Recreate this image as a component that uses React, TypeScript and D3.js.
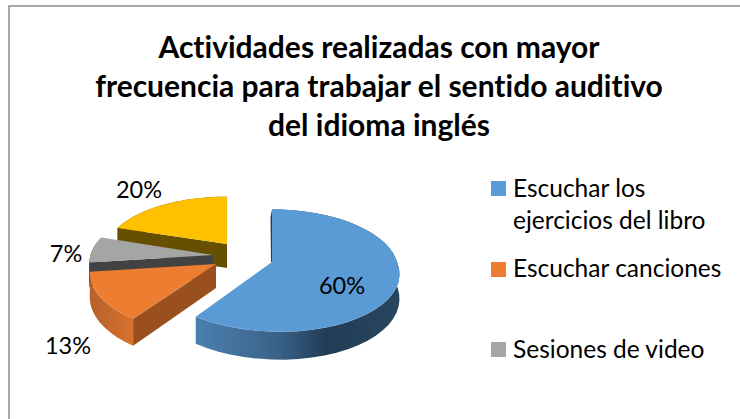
import React from "react";
import * as d3 from "d3";

const values = [60, 13, 7, 20];
const percentLabels = ["60%", "13%", "7%", "20%"];
const legendLines = [["Escuchar los", "ejercicios del libro"], ["Escuchar canciones"], ["Sesiones de video"]];
const titleLines = ["Actividades realizadas con mayor", "frecuencia para trabajar el sentido auditivo", "del idioma inglés"];
const topColors = ["#5b9bd5", "#ed7d31", "#a5a5a5", "#ffc000"];
const wallColors = ["#24415c", "#9a4f1e", "#424242", "#665000"];
const sideIds = ["url(#sideBlue)", "url(#sideOrange)", "#4a4a4a", "#665000"];
const apexes = [[272, 262], [216, 264], [213, 255], [227, 244]];
const radiusX = [1, 1, 0.98, 0.96];
const radiusY = [1, 1, 0.98, 0.9];
const shear = [0.12, 0, 0, 0];
const labelPos = [[342, 294], [68, 354], [66, 262], [139, 198]];
const legendY = [[197, 229], [277], [358]];
const legendSwatchY = [181, 262, 342];

const RX = 125;
const RY = 60;
const PERSP = 0.14;
const DEPTH = 24;
const FONT = "Lato, Carlito, Calibri, sans-serif";

// tilted circle with a bit of perspective (front is bigger)
const scaleAt = (a: number) => 1 / (1 + PERSP * Math.cos(a));

const rimPoints = (i: number, a0: number, a1: number) =>
  d3.range(0, 41).map((n) => {
    const a = a0 + ((a1 - a0) * n) / 40;
    const s = scaleAt(a);
    const dy = -RY * radiusY[i] * Math.cos(a) * s;
    return [apexes[i][0] + RX * radiusX[i] * Math.sin(a) * s + shear[i] * Math.max(0, dy), apexes[i][1] + dy, DEPTH * s];
  });

const drop = (p: number[]) => [p[0], p[1] + (p[2] ?? DEPTH)];
const line = d3.line();
const closed = (pts: number[][]) => line(pts.map((p) => [p[0], p[1]])) + "Z";

export default function App() {
  const arcs = d3.pie<number>().sort(null)(values);

  return (
    <svg width={740} height={419} style={{ position: "absolute", left: 0, top: 0, background: "#fff", fontVariantLigatures: "none" }}>
      <defs>
        <linearGradient id="sideBlue" gradientUnits="userSpaceOnUse" x1={195} x2={400} y1={0} y2={0}>
          <stop offset="0" stopColor="#4a80b0" />
          <stop offset="0.4" stopColor="#3a6289" />
          <stop offset="0.64" stopColor="#223c56" />
          <stop offset="1" stopColor="#28465f" />
        </linearGradient>
        <linearGradient id="sideOrange" gradientUnits="userSpaceOnUse" x1={88} x2={132} y1={0} y2={0}>
          <stop offset="0" stopColor="#b4602a" />
          <stop offset="1" stopColor="#d8722e" />
        </linearGradient>
      </defs>
      <rect x={9} y={6} width={760} height={440} fill="#fff" stroke="#8c8c8c" strokeWidth={1.5} />

      <g textAnchor="middle" fontFamily={FONT} fontWeight={700} fontSize={30} fill="#000">
        {titleLines.map((t, i) => (
          <text key={t} x={379} y={[58, 97, 136][i]}>{t}</text>
        ))}
      </g>

      {[3, 2, 1, 0].map((i) => {
        const arc = arcs[i];
        const apex = apexes[i];
        const rim = rimPoints(i, arc.startAngle, arc.endAngle);
        const side = [...rim, ...rim.map(drop).reverse()];
        const wall = [apex, rim[0], drop(rim[0]), drop(apex)];
        return (
          <g key={i}>
            <path d={closed(side)} fill={sideIds[i]} />
            {i !== 0 && <path d={closed(wall)} fill={wallColors[i]} />}
            {i === 0 && <path d={closed([apex, rim[0], [rim[0][0] - 1.5, rim[0][1] + 8], [apex[0] - 1, apex[1]]])} fill={wallColors[0]} />}
            <path d={closed([apex, ...rim])} fill={topColors[i]} />
          </g>
        );
      })}

      <g fontFamily={FONT} fontSize={23.5} fill="#000" textAnchor="middle">
        {percentLabels.map((t, i) => (
          <text key={t} x={labelPos[i][0]} y={labelPos[i][1]}>{t}</text>
        ))}
      </g>

      <g fontFamily={FONT} fontSize={24.5} fill="#000">
        {legendLines.map((lines, i) => (
          <g key={i}>
            <rect x={491} y={legendSwatchY[i]} width={15} height={15} fill={topColors[i]} />
            {lines.map((t, j) => (
              <text key={t} x={513} y={legendY[i][j]}>{t}</text>
            ))}
          </g>
        ))}
      </g>
    </svg>
  );
}
